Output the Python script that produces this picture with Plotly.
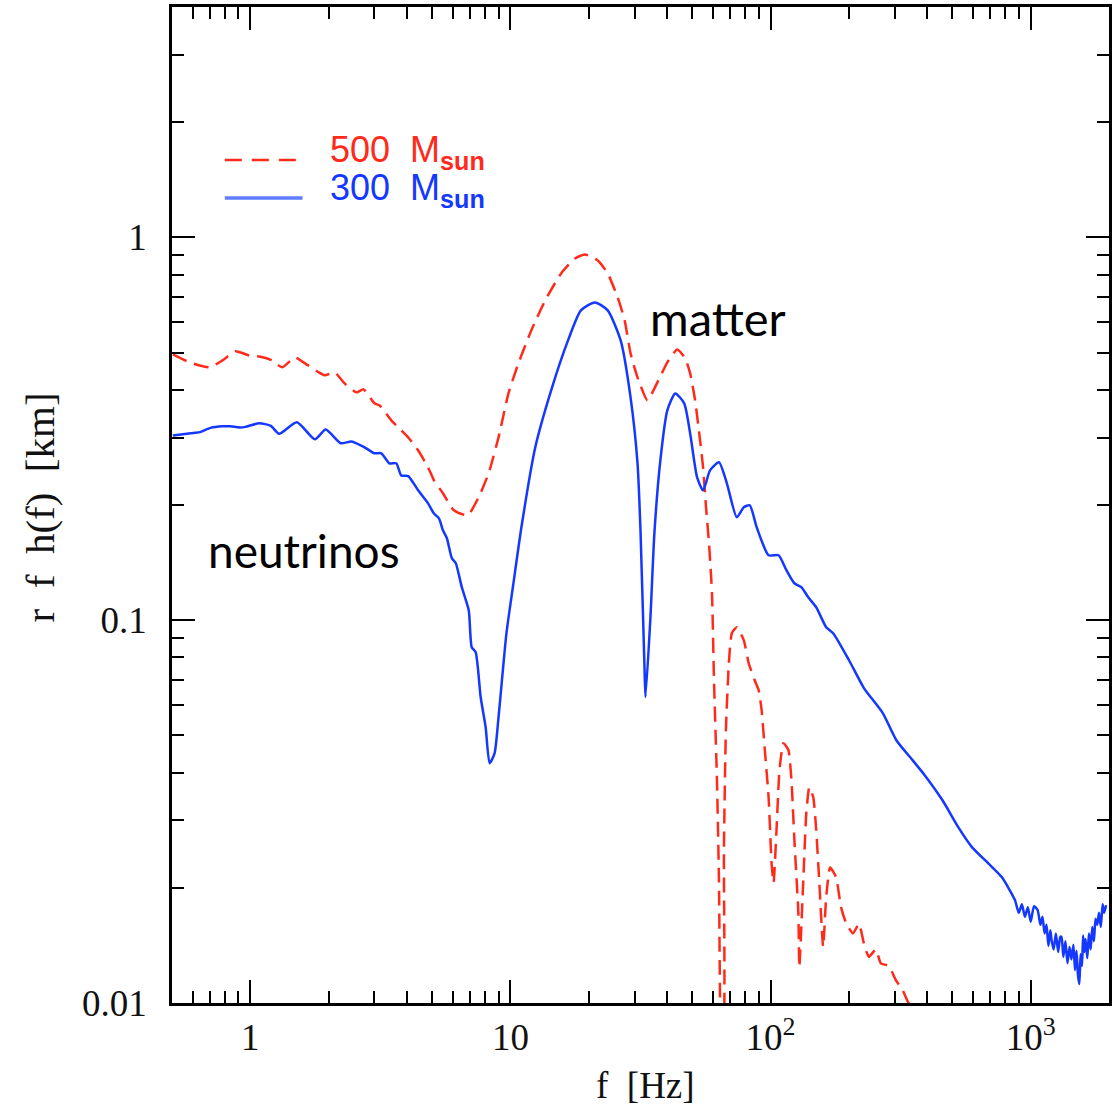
import math
import plotly.graph_objects as go

# Spectrum for the 300 M_sun progenitor (solid blue)
freq_300 = [
    0.504, 0.590, 0.639, 0.703, 0.782, 0.839, 0.908, 0.957, 1.082, 1.20,
    1.290, 1.511, 1.770, 1.950, 2.225, 2.451, 2.747, 3.000, 3.190, 3.422,
    3.640, 3.804, 4.045, 4.416, 4.823, 5.083, 5.311, 5.502, 5.698, 5.954,
    6.166, 6.501, 6.914, 7.097, 7.351, 7.682, 8.028, 8.316, 8.689, 9.000,
    9.654, 10.27, 11.02, 12.46, 14.34, 16.65, 18.66, 21.11, 23.66, 26.53,
    28.96, 30.80, 31.62, 32.76, 33.05, 34.53, 35.76, 37.70, 40.10, 43.02,
    46.56, 49.07, 52.20, 55.03, 58.52, 63.33, 67.92, 74.18, 78.88, 83.15,
    88.45, 98.26, 107.3, 115.1, 123.5, 131.3, 139.6, 149.8, 163.6, 174.0,
    200.3, 228.5, 270.0, 305.0, 351.4, 390.0, 457.5, 526.6, 595.6, 685.5,
    775.1, 869.0, 900.0, 925.0, 950.0, 975.0, 1000.0, 1030.0, 1063.0, 1090.0,
    1110.0, 1131.0, 1150.0, 1170.0, 1190.0, 1203.0, 1225.0, 1250.0, 1275.0, 1300.0,
    1313.0, 1335.0, 1360.0, 1385.0, 1410.0, 1434.0, 1460.0, 1480.0, 1500.0, 1520.0,
    1538.0, 1555.0, 1575.0, 1590.0, 1607.0, 1625.0, 1650.0, 1675.0, 1700.0, 1725.0,
    1750.0, 1775.0, 1802.0, 1830.0, 1860.0, 1890.0, 1916.0, 1950.0,
]
amp_300 = [
    0.304, 0.308, 0.310, 0.318, 0.321, 0.321, 0.319, 0.320, 0.327, 0.322,
    0.307, 0.329, 0.297, 0.315, 0.290, 0.293, 0.283, 0.273, 0.273, 0.257,
    0.257, 0.239, 0.238, 0.2185, 0.202, 0.190, 0.1846, 0.1718, 0.1637, 0.1452,
    0.1409, 0.1220, 0.1062, 0.0850, 0.0825, 0.0630, 0.0526, 0.0423, 0.0449, 0.0558,
    0.0925, 0.1249, 0.1749, 0.283, 0.3986, 0.5383, 0.6449, 0.6766, 0.6449, 0.5383,
    0.3822, 0.257, 0.1718, 0.0754, 0.0630, 0.1018, 0.1688, 0.2617, 0.3534, 0.3914,
    0.3686, 0.3077, 0.2361, 0.2185, 0.2463, 0.2586, 0.2279, 0.1857, 0.1972, 0.1997,
    0.1749, 0.1478, 0.1478, 0.1351, 0.1249, 0.1220, 0.1148, 0.1081, 0.0959, 0.0925,
    0.0786, 0.0665, 0.0572, 0.0485, 0.0431, 0.0395, 0.0339, 0.0288, 0.0255, 0.0232,
    0.0213, 0.0186, 0.0172, 0.0181, 0.0168, 0.0178, 0.0163, 0.0179, 0.0175, 0.0160,
    0.0168, 0.0152, 0.0160, 0.0141, 0.0155, 0.0146, 0.0138, 0.0152, 0.0136, 0.0149,
    0.0149, 0.0132, 0.0145, 0.0127, 0.0140, 0.0130, 0.0142, 0.0122, 0.0137, 0.0118,
    0.0112, 0.0134, 0.0125, 0.0150, 0.0136, 0.0147, 0.0131, 0.0152, 0.0138, 0.0158,
    0.0145, 0.0166, 0.0160, 0.0172, 0.0158, 0.0181, 0.0172, 0.0180,
]

# Spectrum for the 500 M_sun progenitor (dashed red)
freq_500 = [
    0.504, 0.585, 0.6975, 0.782, 0.8765, 0.991, 1.082, 1.213, 1.325, 1.485,
    1.622, 1.834, 1.933, 2.111, 2.305, 2.561, 2.723, 3.000, 3.135, 3.483,
    3.705, 4.045, 4.416, 4.823, 5.083, 5.502, 6.059, 6.852, 7.548, 8.241,
    9.000, 9.826, 10.73, 12.03, 13.60, 15.66, 17.71, 19.33, 21.67, 23.66,
    25.84, 27.48, 28.96, 30.80, 33.63, 36.72, 40.10, 43.77, 46.97, 49.07,
    51.28, 53.58, 55.03, 56.48, 57.99, 59.54, 60.60, 62.22, 63.33, 63.88,
    64.5, 65.6, 66.17, 67.34, 69.14, 70.98, 74.18, 78.88, 82.41, 86.86,
    90.01, 92.39, 94.86, 98.26, 100.9, 102.7, 105.4, 108.2, 112.1, 117.1,
    120.3, 123.5, 127.9, 129.0, 133.6, 137.2, 140.9, 145.9, 149.8, 153.8,
    159.3, 163.6, 169.4, 178.6, 186.6, 195.0, 207.4, 218.7, 228.5, 238.8,
    253.9, 265.3, 284.6, 302.7, 321.8, 339.2, 354.5,
]
amp_500 = [
    0.495, 0.4717, 0.4577, 0.4775, 0.504, 0.4918, 0.4889, 0.4775, 0.4577, 0.486,
    0.469, 0.4441, 0.4362, 0.4441, 0.4156, 0.3938, 0.4010, 0.3686, 0.3642, 0.3328,
    0.319, 0.3004, 0.2779, 0.2509, 0.2320, 0.2146, 0.1937, 0.1880, 0.2096, 0.2419,
    0.3004, 0.3914, 0.469, 0.5718, 0.6847, 0.8054, 0.8815, 0.9029, 0.8709, 0.8054,
    0.6973, 0.6071, 0.498, 0.4309, 0.3753, 0.4182, 0.4717, 0.5099, 0.4831, 0.4415,
    0.3753, 0.2951, 0.2509, 0.1972, 0.1589, 0.1176, 0.0697, 0.0382, 0.0209, 0.0110,
    0.0080, 0.0080, 0.0251, 0.0516, 0.0772, 0.0925, 0.0959, 0.0887, 0.0772, 0.0697,
    0.0657, 0.0582, 0.0466, 0.0345, 0.0232, 0.0206, 0.0283, 0.0406, 0.0477, 0.0458,
    0.0382, 0.0266, 0.0172, 0.0124, 0.0209, 0.0313, 0.0366, 0.0345, 0.0283, 0.0209,
    0.0140, 0.0189, 0.0226, 0.0213, 0.0178, 0.0162, 0.0152, 0.0161, 0.0143, 0.0132,
    0.0138, 0.0127, 0.0125, 0.0115, 0.0108, 0.0100, 0.0096,
]

x_tick_vals = [1, 10, 100, 1000]
x_tick_text = ["1", "10", "10<sup>2</sup>", "10<sup>3</sup>"]
x_minor_vals = [0.6, 0.7, 0.8, 0.9, 2, 3, 4, 5, 6, 7, 8, 9,
                20, 30, 40, 50, 60, 70, 80, 90,
                200, 300, 400, 500, 600, 700, 800, 900]
y_tick_vals = [0.01, 0.1, 1]
y_tick_text = ["0.01", "0.1", "1"]
y_minor_vals = [0.02, 0.03, 0.04, 0.05, 0.06, 0.07, 0.08, 0.09,
                0.2, 0.3, 0.4, 0.5, 0.6, 0.7, 0.8, 0.9, 2, 3]

x_range = [0.5, 2000]
y_range = [0.01, 4]

label_500 = "500  M<sub><b>sun</b></sub>"
label_300 = "300  M<sub><b>sun</b></sub>"
title_x = "f\u00a0\u00a0[Hz]"
title_y = "r\u00a0\u00a0f\u00a0\u00a0h(f)\u00a0\u00a0[km]"

BLUE = "#1438ff"
RED = "#ff2a1a"
SERIF = "Liberation Serif"
SANS = "Liberation Sans"
NOTE = "Lato"

W, H = 1112, 1112
L, R, T, B = 172, 0, 7, 109


def px(xp):
    return (xp - L) / (W - L - R)


def py(yp):
    return (H - B - yp) / (H - T - B)


fig = go.Figure()
fig.add_trace(go.Scatter(x=freq_500, y=amp_500, mode="lines",
                         line=dict(color=RED, width=2.5, dash="15px,8px",
                                   shape="spline", smoothing=0.5),
                         showlegend=False))
fig.add_trace(go.Scatter(x=freq_300, y=amp_300, mode="lines",
                         line=dict(color=BLUE, width=2.5,
                                   shape="spline", smoothing=0.6),
                         showlegend=False))

axis_common = dict(
    type="log", showline=True, linecolor="black", linewidth=2.5,
    mirror="allticks", ticks="inside", ticklen=23, tickwidth=2,
    tickcolor="black", showgrid=False, zeroline=False,
    tickfont=dict(family=SERIF, size=37, color="#111"),
)
fig.update_xaxes(**axis_common,
                 range=[math.log10(x_range[0]), math.log10(x_range[1])],
                 tickmode="array", tickvals=x_tick_vals, ticktext=x_tick_text,
                 ticklabelstandoff=0,
                 minor=dict(tickmode="array", tickvals=x_minor_vals,
                            ticks="inside", ticklen=12, tickwidth=2,
                            tickcolor="black", showgrid=False))
fig.update_yaxes(**axis_common,
                 range=[math.log10(y_range[0]), math.log10(y_range[1])],
                 tickmode="array", tickvals=y_tick_vals, ticktext=y_tick_text,
                 ticklabelstandoff=15,
                 minor=dict(tickmode="array", tickvals=y_minor_vals,
                            ticks="inside", ticklen=12, tickwidth=2,
                            tickcolor="black", showgrid=False))

# legend samples
fig.add_shape(type="line", xref="paper", yref="paper",
              x0=px(225), x1=px(298), y0=py(160), y1=py(160),
              line=dict(color=RED, width=2.5, dash="17px,10px"))
fig.add_shape(type="line", xref="paper", yref="paper",
              x0=px(225), x1=px(303), y0=py(198), y1=py(198),
              line=dict(color="#5f7dff", width=3.5))

annotations = [
    dict(text=label_500, x=px(328), y=py(152), xanchor="left", yanchor="middle",
         font=dict(family=SANS, size=36, color=RED)),
    dict(text=label_300, x=px(328), y=py(190), xanchor="left", yanchor="middle",
         font=dict(family=SANS, size=36, color=BLUE)),
    dict(text="neutrinos", x=px(206), y=py(550), xanchor="left", yanchor="middle",
         font=dict(family=NOTE, size=46, color="black")),
    dict(text="matter", x=px(650), y=py(318), xanchor="left", yanchor="middle",
         font=dict(family=NOTE, size=47, color="black")),
    dict(text=title_x, x=px(647), y=py(1085), xanchor="center", yanchor="middle",
         font=dict(family=SERIF, size=37, color="#111")),
    dict(text=title_y, x=px(40), y=py(507), xanchor="center", yanchor="middle",
         textangle=-90, font=dict(family=SERIF, size=41, color="#111")),
]
for a in annotations:
    a.update(xref="paper", yref="paper", showarrow=False)
fig.update_layout(annotations=annotations)

fig.update_layout(
    width=W, height=H,
    margin=dict(l=L, r=R, t=T, b=B, pad=0),
    paper_bgcolor="white", plot_bgcolor="white",
    showlegend=False,
)

fig.write_html("out.html")
